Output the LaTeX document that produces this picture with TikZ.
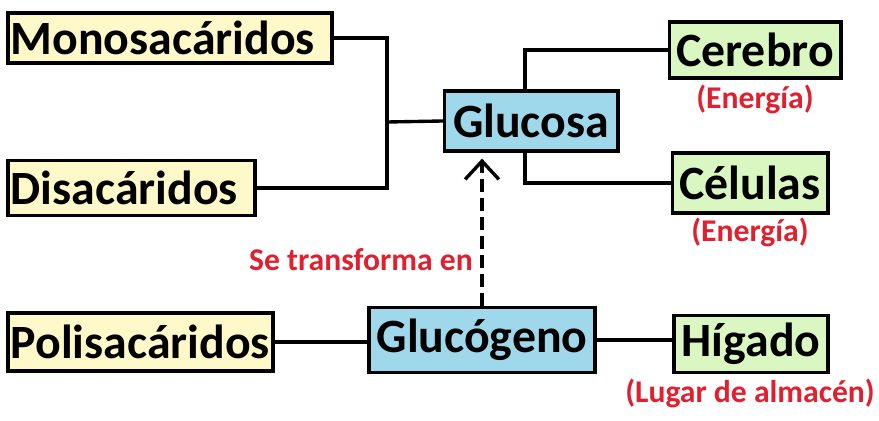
\documentclass[tikz,border=0pt]{standalone}
\usepackage{fontspec}
\setmainfont{Carlito}
\usetikzlibrary{arrows,arrows.meta}

\definecolor{cajaamarilla}{HTML}{FFF8C8}
\definecolor{cajaazul}{HTML}{9ED8EA}
\definecolor{cajaverde}{HTML}{DAF7C2}
\definecolor{rojonota}{HTML}{E0202E}

\begin{document}
\begin{tikzpicture}[
x=0.025cm, y=-0.025cm,
box/.style={draw=black, line width=2.8pt, inner sep=2pt, font=\fontsize{34}{38}\selectfont\bfseries},
yellowbox/.style={box, fill=cajaamarilla, anchor=west, align=left},
bluebox/.style={box, fill=cajaazul},
greenbox/.style={box, fill=cajaverde},
note/.style={text=rojonota, font=\fontsize{22.5}{26}\selectfont\bfseries, inner sep=1pt},
link/.style={line width=2.4pt, line cap=rect},
arrow/.style={-{Straight Barb[length=13pt,width=24pt,line width=2.4pt]},line width=2.4pt, dash pattern=on 9pt off 4.5pt, shorten >=4pt} ]

\useasboundingbox (0,0) rectangle (879,420);

\node[yellowbox, text width=7.95cm, minimum height=1.25cm] (mono) at (6,38) {Monosacáridos};

\node[yellowbox, text width=6.025cm, minimum height=1.375cm] (di) at (6,188) {Disacáridos};

\node[yellowbox, text width=6.475cm, minimum height=1.45cm] (poli) at (6,342) {Polisacáridos};

\node[bluebox, minimum width=4.325cm, minimum height=1.5cm] (glucosa) at (531,121) {Glucosa};

\node[bluebox, minimum width=5.65cm, minimum height=1.625cm] (glucogeno) at (482,340) {Glucógeno};

\node[greenbox, minimum width=4.275cm, minimum height=1.4cm] (cerebro) at (755,50) {Cerebro};

\node[greenbox, minimum width=3.875cm, minimum height=1.5cm] (celulas) at (750,183) {Células};

\node[greenbox, minimum width=3.85cm, minimum height=1.425cm] (higado) at (751,344) {Hígado};

\node[note] (e1) at (755,99) {(Energía)};

\node[note] (e2) at (750,232) {(Energía)};

\node[note] (almacen) at (750,393) {(Lugar de almacén)};

\node[note] (transf) at (361,260) {Se transforma en};

\coordinate (junta) at (387,122);

\draw[link] (mono.east) -| (junta);

\draw[link] (di.east) -| (junta);

\draw[link] (junta) -- (glucosa.west);

\draw[link] ([xshift=-0.15cm]glucosa.north) |- (cerebro.west);

\draw[link] ([xshift=-0.15cm]glucosa.south) |- (celulas.west);

\draw[link] (poli.east) -- (poli.east -| glucogeno.west);

\draw[link] (glucogeno.east) -- (glucogeno.east -| higado.west);

\draw[arrow] (glucogeno.north) -- (glucogeno.north |- glucosa.south);

\end{tikzpicture}
\end{document}
